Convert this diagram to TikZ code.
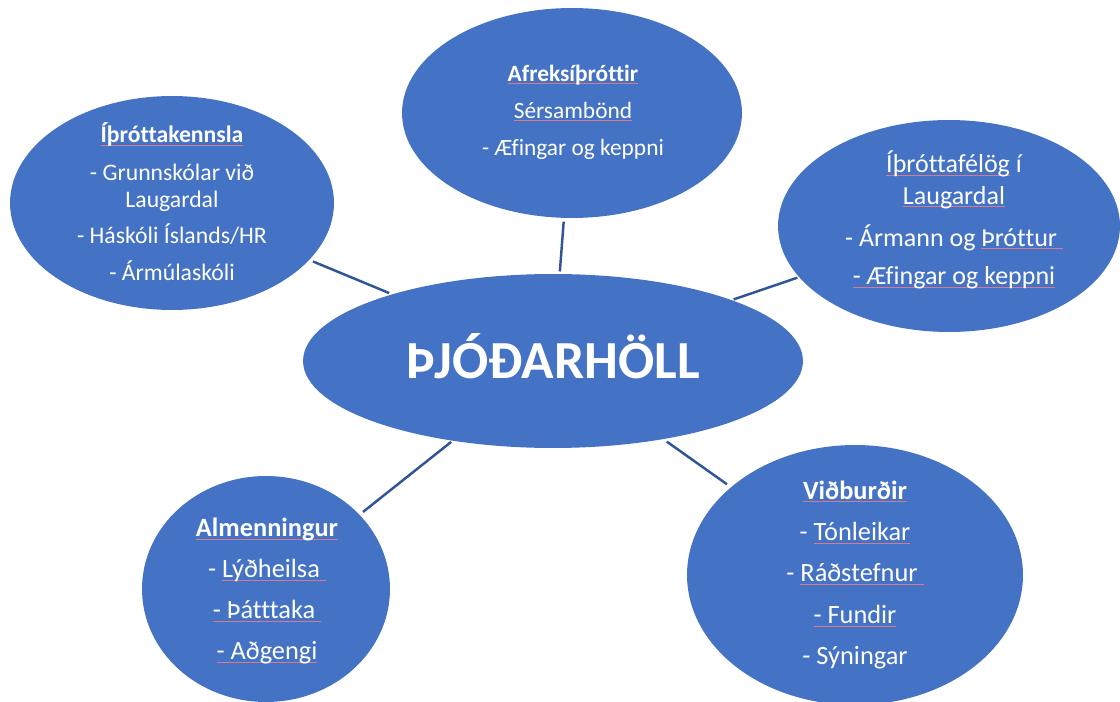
\documentclass[tikz,border=0pt]{standalone}
\usepackage{fontspec}
\setmainfont{Carlito}[Ligatures=NoCommon]
\usetikzlibrary{shapes.geometric,calc}
\definecolor{bubblue}{HTML}{4472C4}
\definecolor{linkblue}{HTML}{2F5597}
\definecolor{squig}{HTML}{D77A8E}
% spell-check squiggle under a word
\newcommand{\flag}[1]{\setbox0\hbox{#1}\rlap{\textcolor{squig}{\rule[-0.11em]{\wd0}{0.4pt}}}\box0\relax}

\begin{document}
\begin{tikzpicture}[x=0.02cm, y=-0.02cm,
    bubble/.style={ellipse, fill=bubblue, inner sep=0pt},
    btext/.style={text=white, align=center, inner sep=0pt},
    link/.style={draw=linkblue, line width=1.4pt}
]
\useasboundingbox (0,0) rectangle (1120,702);

\node[bubble, minimum width=10cm, minimum height=3.48cm, text=white,
      font=\bfseries\fontsize{30.5}{30.5}\selectfont, text height=19.6pt, text depth=0pt] (hub) at (553,361) {ÞJÓÐARHÖLL};

\node[bubble, minimum width=6.48cm, minimum height=4.28cm] (school) at (172,203) {};
\node[bubble, minimum width=6.8cm, minimum height=4.2cm] (elite) at (572,113) {};
\node[bubble, minimum width=6.84cm, minimum height=4.24cm] (clubs) at (949,226) {};
\node[bubble, minimum width=4.96cm, minimum height=4.52cm] (public) at (266,589) {};
\node[bubble, minimum width=6.72cm, minimum height=5.2cm] (events) at (855,575) {};

\node[btext, font=\fontsize{13.5}{15}\selectfont] (schooltxt) at (172,202)
    {\textbf{\flag{Íþróttakennsla}}\\[6.5pt] - Grunnskólar við\\ Laugardal\\[6pt] - Háskóli Íslands/HR\\[6pt] - Ármúlaskóli};
\node[btext, font=\fontsize{13.3}{21}\selectfont] (elitetxt) at (573,112)
    {\textbf{\flag{Afreksíþróttir}}\\ \flag{Sérsambönd}\\ - Æfingar og keppni};
\node[btext, font=\fontsize{14.8}{18}\selectfont] (clubstxt) at (954,220)
    {\flag{Íþróttafélög} í\\ \flag{Laugardal}\\[5.8pt] - Ármann og \flag{Þróttur\ }\\[4pt] \flag{- Æfingar og keppni}};
\node[btext, font=\fontsize{15}{23.3}\selectfont] (publictxt) at (267,591)
    {\textbf{\flag{Almenningur}}\\ - \flag{Lýðheilsa\ }\\ \flag{- Þátttaka\ }\\ \flag{- Aðgengi}};
\node[btext, font=\fontsize{15}{23.6}\selectfont] (eventstxt) at (855,575)
    {\textbf{\flag{Viðburðir}}\\ - \flag{Tónleikar}\\ - \flag{Ráðstefnur\ }\\ \flag{- Fundir}\\ - Sýningar};

\draw[link] ($(school.center)!0.370!(hub.center)$) -- ($(school.center)!0.570!(hub.center)$);
\draw[link] ($(elite.center)!0.438!(hub.center)$) -- ($(elite.center)!0.639!(hub.center)$);
\draw[link] ($(clubs.center)!0.383!(hub.center)$) -- ($(clubs.center)!0.544!(hub.center)$);
\draw[link] ($(public.center)!0.338!(hub.center)$) -- ($(public.center)!0.645!(hub.center)$);
\draw[link] ($(events.center)!0.424!(hub.center)$) -- ($(events.center)!0.623!(hub.center)$);

\end{tikzpicture}
\end{document}
